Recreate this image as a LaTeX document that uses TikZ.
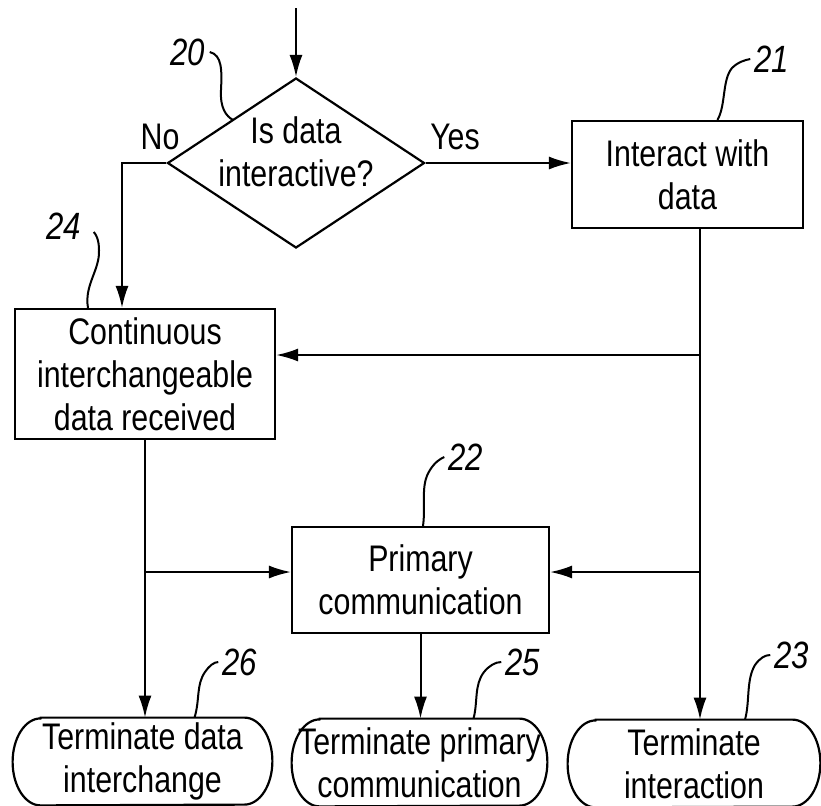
\documentclass[tikz,border=0pt]{standalone}
\usepackage{fontspec}
\setmainfont{Liberation Sans}[FakeStretch=0.82]
\usetikzlibrary{arrows.meta,shapes.geometric,positioning}

\tikzset{
  box/.style={draw,line width=1.1pt,rectangle,align=center,inner sep=0pt},
  term/.style={rectangle,align=center,inner sep=0pt,minimum height=43.5pt},
  num/.style={font=\fontsize{19}{21}\selectfont\itshape,inner sep=0pt},
  lead/.style={line width=1pt},
  flow/.style={line width=1pt,-{Latex[length=11pt,width=6.5pt]}},
}

\begin{document}
\begin{tikzpicture}[x=0.5pt,y=-0.5pt,font=\fontsize{18.5}{21.5}\selectfont]
\useasboundingbox (0,0) rectangle (821,805);
%decision
\coordinate (start) at (296,8);
\node[draw,line width=1.1pt,diamond,minimum width=128.5pt,minimum height=85pt,inner sep=0pt] (dec) at (296,163) {};
\node[align=center,inner sep=0pt] (decq) at (296,152) {Is data\\interactive?};
\node (no) at (160,137) {No};
\node (yes) at (455,137) {Yes};
%boxes
\node[box,minimum width=115.5pt,minimum height=53.5pt] (b21) at (687.5,174.5) {Interact with\\data};
\node[box,minimum width=130pt,minimum height=65pt] (b24) at (145,374) {Continuous\\interchangeable\\data received};
\node[box,minimum width=128.5pt,minimum height=53pt] (b22) at (420.5,580) {Primary\\communication};
\node[term,minimum width=129.5pt] (t26) at (142.5,761.5) {Terminate data\\interchange};
\node[term,minimum width=127.5pt] (t25) at (419.5,762.5) {Terminate primary\\communication};
\node[term,minimum width=126pt] (t23) at (694,763.5) {Terminate\\interaction};
%terminal outlines
\foreach \t in {t26,t25,t23}
  \draw[line width=1.1pt] ([xshift=14pt]\t.north west) -- ([xshift=-14pt]\t.north east)
    arc[start angle=90,end angle=-90,x radius=14pt,y radius=21.75pt]
    -- ([xshift=14pt]\t.south west)
    arc[start angle=-90,end angle=-270,x radius=14pt,y radius=21.75pt] -- cycle;
%flow lines
\coordinate (nox) at (122,163);
\coordinate (r) at (700,0);
\coordinate (j1) at (700,355);
\coordinate (j2) at (700,572);
\coordinate (j3) at (145,572);
\draw[flow] (start) -- (dec.north);
\draw[flow] (dec.east) -- (dec.east -| b21.west);
\draw[flow] (dec.west) -- (nox) -- (nox |- b24.north);
\draw[flow] (b21.south -| r) -- (t23.north -| r);
\draw[flow] (j1) -- (b24.east |- j1);
\draw[flow] (j2) -- (b22.east |- j2);
\draw[flow] (b24.south) -- (b24.south |- t26.north);
\draw[flow] (j3) -- (b22.west |- j3);
\draw[flow] (b22.south) -- (b22.south |- t25.north);
%reference numbers
\node[num] (n20) at (188,52) {20};
\node[num] (n21) at (772,59) {21};
\node[num] (n24) at (64,226) {24};
\node[num] (n22) at (466,457) {22};
\node[num] (n26) at (240,662) {26};
\node[num] (n25) at (523,662) {25};
\node[num] (n23) at (792,655) {23};
\draw[lead] ([xshift=2pt]n20.east) .. controls (222,55) and (222,70) .. (221,90)
  .. controls (220,108) and (226,116) .. (233,120);
\draw[lead] ([xshift=15pt]b21.north) .. controls (726,105) and (722,80) .. (732,68)
  .. controls (738,62) and (745,60) .. ([xshift=-2pt]n21.west);
\draw[lead] ([xshift=-28.5pt]b24.north) .. controls (84,285) and (100,270) .. (99,250)
  .. controls (99,240) and (96,234) .. ([xshift=6pt,yshift=-3pt]n24.east);
\draw[lead] ([xshift=1.25pt]b22.north) .. controls (426,505) and (420,485) .. (430,470)
  .. controls (435,462) and (440,459) .. ([xshift=-2pt]n22.west);
\draw[lead] ([xshift=26pt]t26.north) .. controls (200,700) and (196,685) .. (205,672)
  .. controls (209,666) and (214,662) .. ([xshift=-2pt]n26.west);
\draw[lead] ([xshift=27pt]t25.north) .. controls (478,702) and (474,685) .. (484,672)
  .. controls (489,666) and (495,662) .. ([xshift=-2pt]n25.west);
\draw[lead] ([xshift=25.5pt]t23.north) .. controls (750,702) and (746,680) .. (755,665)
  .. controls (760,658) and (765,655) .. ([xshift=-2pt]n23.west);
\end{tikzpicture}
\end{document}
